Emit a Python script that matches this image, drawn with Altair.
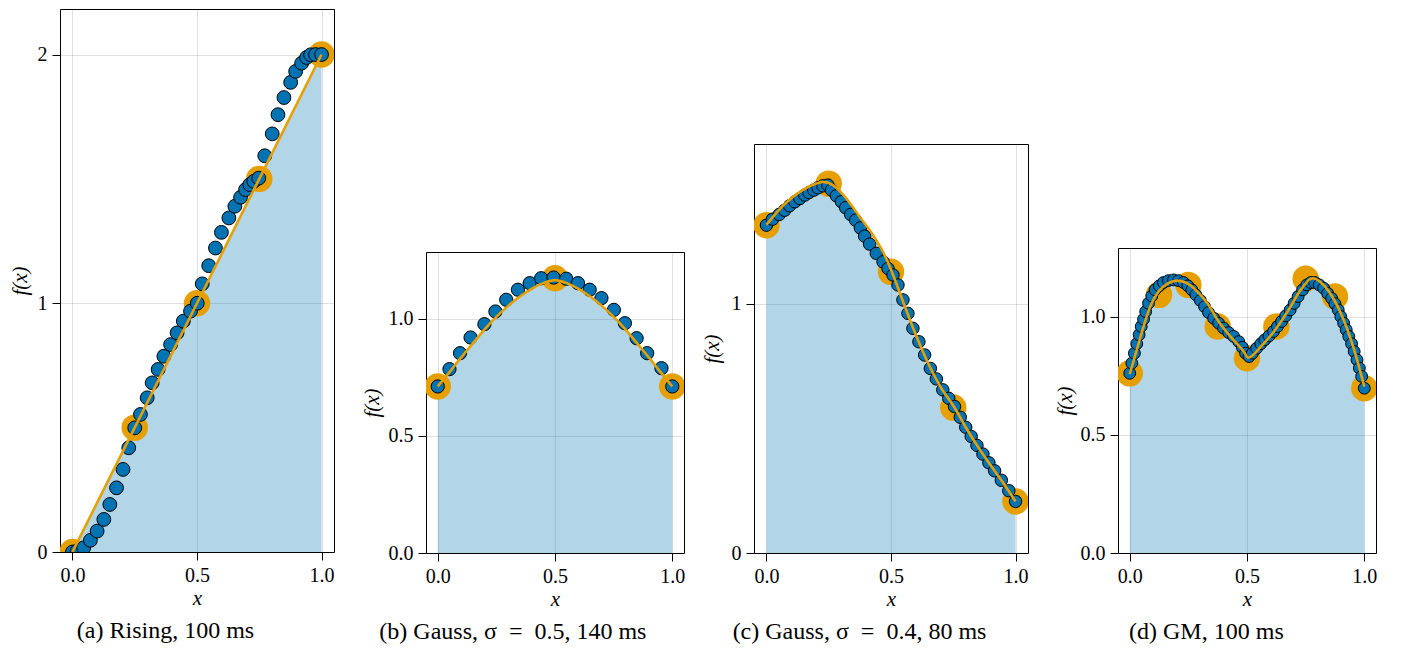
import altair as alt
import pandas as pd

# ---------------- data ----------------
# (a) Rising
a_blue_x = [0.0, 0.019, 0.045, 0.072, 0.099, 0.126, 0.150, 0.177, 0.203, 0.226, 0.250,
            0.273, 0.300, 0.320, 0.344, 0.367, 0.394, 0.420, 0.445, 0.474, 0.501,
            0.521, 0.547, 0.574, 0.598, 0.628, 0.652, 0.675, 0.695, 0.712, 0.728, 0.748,
            0.772, 0.802, 0.825, 0.849, 0.876, 0.896, 0.920, 0.940, 0.956, 0.976, 1.0]
a_blue_y = [0.0, 0.004, 0.017, 0.047, 0.084, 0.131, 0.191, 0.258, 0.332, 0.419, 0.499,
            0.553, 0.620, 0.680, 0.734, 0.787, 0.834, 0.881, 0.928, 0.968, 1.0,
            1.078, 1.151, 1.222, 1.285, 1.343, 1.390, 1.426, 1.457, 1.477, 1.490, 1.503,
            1.593, 1.681, 1.758, 1.827, 1.888, 1.932, 1.965, 1.988, 1.999, 2.0, 2.0]
a_obs_x = [0.0, 0.25, 0.5, 0.75, 1.0]
a_obs_y = [0.0, 0.5, 1.0, 1.5, 2.0]
a_line_x = [0.0, 0.25, 0.5, 0.75, 1.0]
a_line_y = [0.0, 0.5, 1.0, 1.5, 2.0]

# (b) Gauss, sigma = 0.5
b_blue_x = [0.0, 0.05, 0.095, 0.14, 0.199, 0.246, 0.292, 0.342, 0.392, 0.441, 0.494,
            0.548, 0.598, 0.648, 0.698, 0.751, 0.798, 0.848, 0.893, 0.954, 1.0]
b_blue_y = [0.711, 0.785, 0.853, 0.920, 0.977, 1.031, 1.081, 1.124, 1.152, 1.173, 1.176,
            1.171, 1.152, 1.124, 1.088, 1.038, 0.981, 0.917, 0.853, 0.789, 0.711]
b_obs_x = [0.0, 0.5, 1.0]
b_obs_y = [0.711, 1.173, 0.711]
b_line_x = [0.0, 0.05, 0.1, 0.15, 0.2, 0.25, 0.3, 0.35, 0.4, 0.45, 0.5,
            0.55, 0.6, 0.65, 0.7, 0.75, 0.8, 0.85, 0.9, 0.95, 1.0]
b_line_y = [0.711, 0.772, 0.835, 0.895, 0.955, 1.008, 1.055, 1.095, 1.128, 1.152, 1.165,
            1.152, 1.128, 1.095, 1.055, 1.008, 0.955, 0.895, 0.835, 0.772, 0.711]

# (c) Gauss, sigma = 0.4
c_blue_x = [0.0, 0.024, 0.051, 0.073, 0.093, 0.114, 0.134, 0.154, 0.171, 0.190, 0.207,
            0.227, 0.247, 0.261, 0.281, 0.301, 0.318, 0.338, 0.358, 0.377, 0.394,
            0.414, 0.441, 0.468, 0.488, 0.508, 0.528, 0.548, 0.568, 0.588, 0.612,
            0.635, 0.658, 0.682, 0.708, 0.732, 0.755, 0.778, 0.800, 0.822, 0.845,
            0.869, 0.893, 0.916, 0.943, 0.973, 1.0]
c_blue_y = [1.316, 1.340, 1.359, 1.376, 1.394, 1.410, 1.423, 1.437, 1.447, 1.457, 1.466,
            1.474, 1.477, 1.457, 1.434, 1.410, 1.386, 1.359, 1.336, 1.305, 1.272,
            1.240, 1.203, 1.169, 1.142, 1.116, 1.076, 1.016, 0.962, 0.902, 0.848,
            0.795, 0.741, 0.699, 0.655, 0.621, 0.588, 0.545, 0.505, 0.468, 0.432,
            0.397, 0.362, 0.330, 0.292, 0.250, 0.207]
c_obs_x = [0.0, 0.25, 0.5, 0.75, 1.0]
c_obs_y = [1.316, 1.483, 1.129, 0.584, 0.207]
c_line_x = [0.0, 0.075, 0.134, 0.2, 0.227, 0.267, 0.321, 0.374, 0.428, 0.481, 0.501,
            0.55, 0.6, 0.65, 0.7, 0.755, 0.8, 0.85, 0.9, 0.95, 1.0]
c_line_y = [1.318, 1.403, 1.45, 1.483, 1.49, 1.477, 1.423, 1.35, 1.276, 1.182, 1.135,
            1.005, 0.875, 0.76, 0.665, 0.584, 0.505, 0.425, 0.352, 0.282, 0.207]

# (d) GM
d_blue_x = [0.0, 0.009, 0.020, 0.030, 0.040, 0.049, 0.059, 0.068, 0.080, 0.094, 0.108,
            0.126, 0.144, 0.165, 0.187, 0.208, 0.229, 0.248, 0.265, 0.282, 0.301,
            0.319, 0.336, 0.358, 0.379, 0.400, 0.422, 0.443, 0.465, 0.480, 0.494,
            0.509, 0.523, 0.541, 0.559, 0.576, 0.594, 0.613, 0.630, 0.647, 0.665,
            0.684, 0.701, 0.718, 0.737, 0.755, 0.772, 0.789, 0.808, 0.827, 0.844,
            0.861, 0.875, 0.889, 0.900, 0.912, 0.923, 0.934, 0.946, 0.957, 0.969,
            0.979, 0.989, 1.0]
d_blue_y = [0.760, 0.803, 0.845, 0.885, 0.923, 0.958, 0.989, 1.021, 1.056, 1.087, 1.113,
            1.130, 1.144, 1.152, 1.155, 1.152, 1.144, 1.130, 1.113, 1.092, 1.068,
            1.042, 1.017, 0.993, 0.972, 0.951, 0.932, 0.916, 0.894, 0.870, 0.845,
            0.831, 0.845, 0.866, 0.885, 0.902, 0.918, 0.937, 0.958, 0.979, 1.003,
            1.028, 1.056, 1.085, 1.113, 1.134, 1.144, 1.144, 1.134, 1.120, 1.098,
            1.077, 1.054, 1.028, 1.000, 0.972, 0.944, 0.916, 0.885, 0.852, 0.817,
            0.782, 0.747, 0.697]
d_obs_x = [0.0, 0.125, 0.25, 0.375, 0.5, 0.625, 0.75, 0.875, 1.0]
d_obs_y = [0.760, 1.092, 1.134, 0.958, 0.824, 0.958, 1.160, 1.085, 0.697]
d_line_x = [0.0, 0.03, 0.059, 0.087, 0.123, 0.165, 0.201, 0.238, 0.281, 0.331, 0.379,
            0.436, 0.486, 0.505, 0.559, 0.615, 0.673, 0.729, 0.779, 0.844, 0.9, 0.957, 1.0]
d_line_y = [0.757, 0.859, 0.958, 1.042, 1.106, 1.141, 1.152, 1.144, 1.113, 1.056, 0.979,
            0.908, 0.852, 0.826, 0.873, 0.937, 1.021, 1.113, 1.162, 1.113, 1.014, 0.859, 0.704]

captions = ["(a) Rising, 100 ms",
            "(b) Gauss, \u03c3\u2002=\u20020.5, 140 ms",
            "(c) Gauss, \u03c3\u2002=\u20020.4, 80 ms",
            "(d) GM, 100 ms"]

# ---------------- style ----------------
FONT = "Liberation Serif"
BLUE = "#0173B2"
ORANGE = "#E69F00"


def panel(bx, by, ox, oy, lx, ly, ymax, yticks, yfmt, width, height, caption,
          interp, title_pad, dot, cap_dx):
    xs = alt.Scale(domain=[-0.05, 1.05], nice=False, zero=False)
    ys = alt.Scale(domain=[0, ymax], nice=False, zero=False)
    xax = alt.Axis(values=[0.0, 0.5, 1.0], format=".1f", title="x",
                   titleFontStyle="italic", titlePadding=2)
    yax = alt.Axis(values=yticks, format=yfmt, title="f(x)",
                   titleFontStyle="italic", titlePadding=title_pad)
    curve = pd.DataFrame({"x": lx, "y": ly})
    blue = pd.DataFrame({"x": bx, "y": by})
    obs = pd.DataFrame({"x": ox, "y": oy})

    area = alt.Chart(curve).mark_area(color=BLUE, opacity=0.3, interpolate=interp,
                                      clip=True).encode(
        x=alt.X("x:Q", scale=xs, axis=xax),
        y=alt.Y("y:Q", scale=ys, axis=yax))
    big = alt.Chart(obs).mark_circle(color=ORANGE, opacity=1, size=700,
                                     clip=True).encode(
        x=alt.X("x:Q", scale=xs), y=alt.Y("y:Q", scale=ys))
    pts = alt.Chart(blue).mark_point(filled=True, fill=BLUE, stroke="black",
                                     strokeWidth=1, opacity=1, size=dot,
                                     shape="circle", clip=True).encode(
        x=alt.X("x:Q", scale=xs), y=alt.Y("y:Q", scale=ys))
    line = alt.Chart(curve).mark_line(color=ORANGE, strokeWidth=2.6,
                                      interpolate=interp, clip=True).encode(
        x=alt.X("x:Q", scale=xs), y=alt.Y("y:Q", scale=ys))
    return alt.layer(area, big, pts, line).properties(
        width=width, height=height,
        title=alt.TitleParams(text=caption, orient="bottom", anchor="middle",
                              frame="bounds", font=FONT, fontSize=24,
                              fontWeight="normal", color="black", offset=11,
                              dx=cap_dx))


def spacer(h):
    return alt.Chart(pd.DataFrame({"v": [0]})).mark_rule(
        opacity=0, strokeWidth=0).encode(
        x=alt.value(0), y=alt.value(0), y2=alt.value(h)).properties(
        width=1, height=h, view=alt.ViewBackground(strokeOpacity=0))


pa = panel(a_blue_x, a_blue_y, a_obs_x, a_obs_y, a_line_x, a_line_y,
           2.183, [0, 1, 2], ".0f", 274, 543, captions[0], "linear", 7, 190, -6)
pb = panel(b_blue_x, b_blue_y, b_obs_x, b_obs_y, b_line_x, b_line_y,
           1.285, [0.0, 0.5, 1.0], ".1f", 258, 301, captions[1], "monotone", 6, 175, -10)
pc = panel(c_blue_x, c_blue_y, c_obs_x, c_obs_y, c_line_x, c_line_y,
           1.642, [0, 1], ".0f", 274, 409, captions[2], "monotone", 9, 155, -5)
pd_ = panel(d_blue_x, d_blue_y, d_obs_x, d_obs_y, d_line_x, d_line_y,
            1.29, [0.0, 0.5, 1.0], ".1f", 258, 305, captions[3], "monotone", 5, 140, -9)

left = alt.hconcat(pa, alt.vconcat(spacer(242), pb, spacing=0), spacing=25)
right = alt.hconcat(alt.vconcat(spacer(134), pc, spacing=0),
                    alt.vconcat(spacer(238), pd_, spacing=0), spacing=24)

chart = alt.hconcat(left, right, spacing=14).properties(
    padding={"left": 0, "top": 0, "right": 5, "bottom": 5}
).configure_view(
    stroke="black", strokeWidth=1
).configure_axis(
    labelFont=FONT, labelFontSize=20, labelColor="black",
    titleFont=FONT, titleFontSize=21, titleColor="black", titleFontWeight="normal",
    domain=False, ticks=True, tickColor="black", tickSize=8, tickWidth=1,
    labelPadding=5, grid=True, gridColor="#000000", gridOpacity=0.12, gridWidth=1,
)

chart.save("out.html", embed_options={"renderer": "svg", "actions": False})
